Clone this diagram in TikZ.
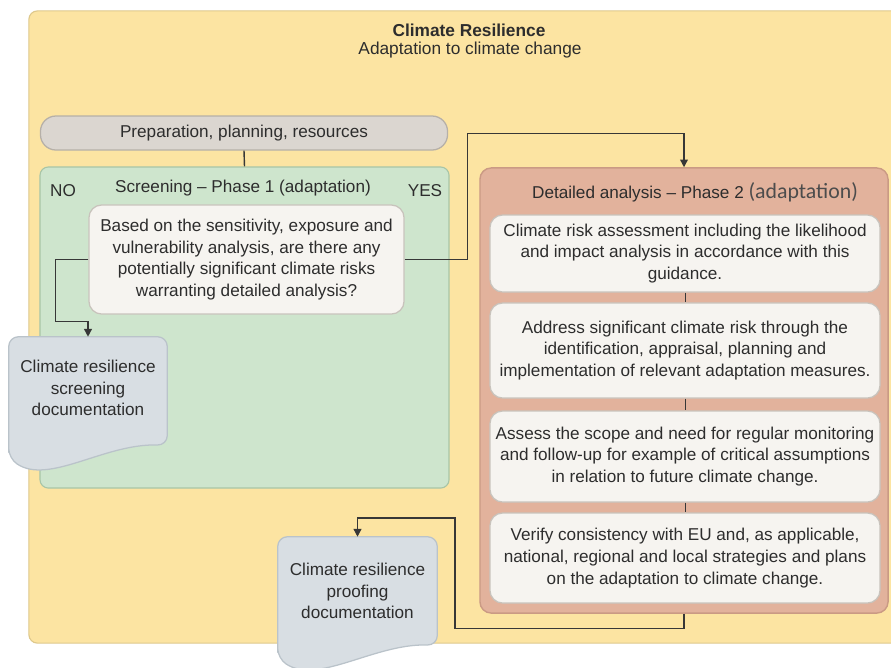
\documentclass[tikz,border=0pt]{standalone}
\usepackage{fontspec}
\setmainfont{Liberation Sans}
\newfontfamily\calfont{Carlito}
\usetikzlibrary{arrows.meta, positioning, calc}
\definecolor{YF}{RGB}{252,228,162}
\definecolor{YB}{RGB}{222,200,140}
\definecolor{GF}{RGB}{206,229,205}
\definecolor{GB}{RGB}{168,197,166}
\definecolor{PF}{RGB}{219,214,208}
\definecolor{PB}{RGB}{182,176,168}
\definecolor{WF}{RGB}{246,244,240}
\definecolor{WB}{RGB}{200,195,188}
\definecolor{SF}{RGB}{226,178,156}
\definecolor{SB}{RGB}{202,154,132}
\definecolor{DF}{RGB}{216,222,227}
\definecolor{DB}{RGB}{186,195,202}
\definecolor{TX}{RGB}{45,45,45}
\definecolor{LN}{RGB}{55,55,55}

\tikzset{
  frame/.style={rectangle, rounded corners=6pt, line width=0.8pt},
  whitebox/.style={rectangle, rounded corners=9pt, fill=WF, draw=WB,
    line width=0.9pt, align=center, inner sep=2pt},
  docsize/.style={rectangle, inner sep=0pt, minimum width=3.95cm, minimum height=2.7cm},
  doctext/.style={align=center, inner sep=1pt},
  docbody/.style={fill=DF, draw=DB, line width=0.9pt, rounded corners=7pt},
  link/.style={draw=LN, line width=1pt},
  arr/.style={link, -{Triangle[length=5.5pt, width=5.5pt]}},
}

% wavy document body under a sized node
\newcommand{\docshape}[1]{%
  \path[docbody]
    ($(#1.south west)+(0,13)$) -- (#1.north west) -- (#1.north east)
    -- (#1.south east)
    .. controls ($(#1.south east)+(-63,-2)$) and ($(#1.south west)+(40,40)$)
    .. ($(#1.south west)+(0,13)$) -- cycle;}

\begin{document}
\begin{tikzpicture}[x=0.025cm, y=-0.025cm, font=\fontsize{12.2}{15.4}\selectfont, text=TX]
\useasboundingbox (0,0) rectangle (891,667);
\clip (0,0) rectangle (891,667);

% Outer frame
\node[frame, fill=YF, draw=YB, minimum width=21.9cm, minimum height=15.8cm] (outer) at (467,327) {};
\node[font=\fontsize{12.3}{14}\selectfont\bfseries] (title) at (469,30) {Climate Resilience};
\node[font=\fontsize{12.3}{14}\selectfont] (subtitle) at (470,50) {Adaptation to climate change};

% Preparation
\node[rectangle, rounded corners=11pt, fill=PF, draw=PB, line width=0.9pt,
  minimum width=10.175cm, minimum height=0.85cm] (prep) at (244,133) {Preparation, planning, resources};

% Phase 1
\node[frame, fill=GF, draw=GB, minimum width=10.225cm, minimum height=8.025cm] (green) at (244.5,327.5) {};
\node (scrtitle) at (243,188) {Screening -- Phase 1 (adaptation)};
\node (no) at (63,191) {NO};
\node (yes) at (425,191) {YES};
\node[whitebox, minimum width=7.875cm, minimum height=2.725cm] (question) at (246.5,259.5)
  {Based on the sensitivity, exposure and\\vulnerability analysis, are there any\\potentially significant climate risks\\warranting detailed analysis?};

% Phase 2
\node[frame, rounded corners=8pt, fill=SF, draw=SB, line width=1pt,
  minimum width=10.2cm, minimum height=11.125cm] (phase2) at (684,390.5) {};
\node (p2title) at (695,192) {Detailed analysis -- Phase 2 {\calfont\fontsize{15.5}{15}\selectfont\color{TX!85}(adaptation)}};
\node[whitebox, minimum width=9.75cm, minimum height=1.925cm] (risk) at (685,253.5)
  {Climate risk assessment including the likelihood\\and impact analysis in accordance with this\\guidance.};
\node[whitebox, minimum width=9.75cm, minimum height=2.375cm] (address) at (685,350.5)
  {Address significant climate risk through the\\identification, appraisal, planning and\\implementation of relevant adaptation measures.};
\node[whitebox, minimum width=9.75cm, minimum height=2.275cm] (monitor) at (685,456.5)
  {Assess the scope and need for regular monitoring\\and follow-up for example of critical assumptions\\in relation to future climate change.};
\node[whitebox, minimum width=9.75cm, minimum height=2.25cm] (verify) at (685,558)
  {Verify consistency with EU and, as applicable,\\national, regional and local strategies and plans\\on the adaptation to climate change.};

% Documents
\node[docsize] (sdoc) at (88,391) {};
\docshape{sdoc}
\node[doctext] (sdoctext) at ($(sdoc)+(0,-3)$) {Climate resilience\\screening\\documentation};

\node[docsize, minimum width=3.975cm] (pdoc) at (357.5,591) {};
\docshape{pdoc}
\node[doctext] (pdoctext) at (pdoc) {Climate resilience\\proofing\\documentation};

% Connectors
\draw[link] (prep.south) -- (green.north);
\draw[arr] (question.west) -- ++(-33,0) |- ($(sdoc.north)+(0,-15)$) -- (sdoc.north);
\draw[arr] (question.east) -- ++(63,0) |- ($(phase2.north)+(0,-34)$) -- (phase2.north);
\draw[link, line width=0.7pt] (risk.south) -- (address.north);
\draw[link, line width=0.7pt] (address.south) -- (monitor.north);
\draw[link, line width=0.7pt] (monitor.south) -- (verify.north);
\coordinate (pbend) at (455,518);
\draw[arr] (phase2.south) -- ++(0,15) -| (pbend) -| (pdoc.north);
\end{tikzpicture}
\end{document}
